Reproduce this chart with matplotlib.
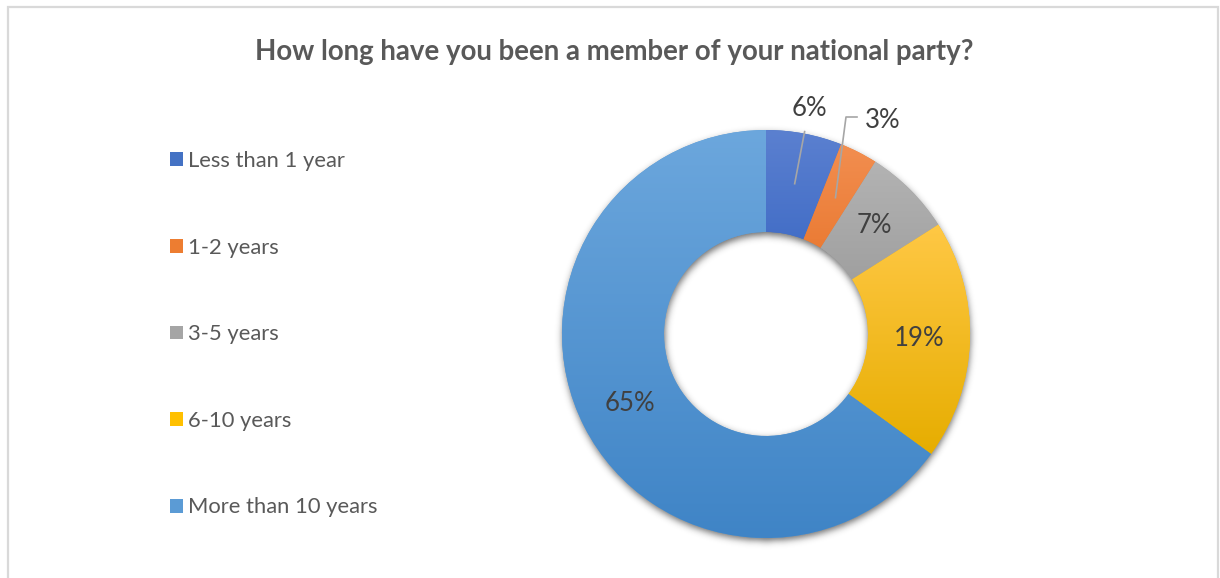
import numpy as np
import matplotlib.pyplot as plt
from matplotlib.colors import LinearSegmentedColormap, to_rgb
from matplotlib.patches import Rectangle

plt.rcParams['font.family'] = ['Lato', 'DejaVu Sans']

title = 'How long have you been a member of your national party?'
categories = ['Less than 1 year', '1-2 years', '3-5 years', '6-10 years', 'More than 10 years']
shares = [6, 3, 7, 19, 65]

# top / bottom shade of each slice
shade_top = ['#5b80d0', '#f28e50', '#b3b3b3', '#ffc845', '#6ca7dd']
shade_bot = ['#2f5fbf', '#e46c1e', '#979797', '#e6ad00', '#3f84c6']
shade_mid = ['#4472c4', '#ed7d31', '#a5a5a5', '#ffc000', '#5b9bd5']

W, H = 1220, 578
fig = plt.figure(figsize=(W / 100, H / 100), dpi=100)

# light frame round the chart area (open at the bottom)
fig.patches.append(Rectangle((8 / W, -0.05), 1210 / W, 1.05 - 7 / H, transform=fig.transFigure,
                             fill=False, edgecolor='#d9d9d9', linewidth=1.6))

fig.text(614 / W, 1 - 52 / H, title, ha='center', va='center', fontsize=19.9,
         fontweight='bold', color='#595959')

# donut axes: centre (766, 334), radius 204 px, limits padded for the shadow
cx, cy, R, pad = 766, 334, 204, 1.12
side = 2 * R * pad
ax = fig.add_axes([(cx - side / 2) / W, (H - cy - side / 2) / H, side / W, side / H])
ax.set_xlim(-pad, pad)
ax.set_ylim(-pad, pad)
ax.set_aspect('equal')
ax.axis('off')

ring = 0.5
wedges, _ = ax.pie(shares, colors=shade_mid, startangle=90, counterclock=False, radius=1,
                   wedgeprops=dict(width=ring, edgecolor='none', linewidth=0))

# soft drop shadow under the ring
n = 500
g = np.linspace(-pad, pad, n)
xx, yy = np.meshgrid(g, g)
off = 3.5 / R
rr = np.hypot(xx, yy + off)
mask = ((rr <= 1.0) & (rr >= 1.0 - ring)).astype(float)
sig = 3.5 / R / (g[1] - g[0])
k = np.arange(-int(4 * sig) - 1, int(4 * sig) + 2)
kern = np.exp(-0.5 * (k / sig) ** 2)
kern /= kern.sum()
blur = np.apply_along_axis(lambda r: np.convolve(r, kern, mode='same'), 1, mask)
blur = np.apply_along_axis(lambda c: np.convolve(c, kern, mode='same'), 0, blur)
shadow = np.zeros((n, n, 4))
shadow[..., :3] = 0.12
shadow[..., 3] = blur * 0.65
ax.imshow(shadow, extent=(-pad, pad, -pad, pad), origin='lower', zorder=0.5,
          interpolation='bilinear')

# vertical gradient fill clipped to each slice
grad = np.linspace(0, 1, 256).reshape(-1, 1)
for w, top, bot in zip(wedges, shade_top, shade_bot):
    w.set_zorder(1)
    v = w.get_path().vertices
    x0, x1 = v[:, 0].min(), v[:, 0].max()
    y0, y1 = v[:, 1].min(), v[:, 1].max()
    cmap = LinearSegmentedColormap.from_list('s', [to_rgb(bot), to_rgb(top)])
    im = ax.imshow(grad, cmap=cmap, extent=(x0, x1, y0, y1), origin='lower',
                   aspect='auto', zorder=2, interpolation='bilinear')
    im.set_clip_path(w)

ax.set_xlim(-pad, pad)
ax.set_ylim(-pad, pad)


def mid_point(w, r):
    a = np.deg2rad((w.theta1 + w.theta2) / 2)
    return r * np.cos(a), r * np.sin(a)


lab_kw = dict(fontsize=18.5, color='#404040', ha='center', va='center', zorder=5)
for w, s in zip(wedges[2:], shares[2:]):
    ax.text(*mid_point(w, 0.75), f'{s}%', **lab_kw)

# the two thin slices get their labels outside with leader lines
line_kw = dict(color='#a6a6a6', lw=1.2, zorder=4)
x6, y6 = mid_point(wedges[0], 0.75)
xa, ya = mid_point(wedges[0], 1.01)
ax.plot([x6, xa], [y6, ya], **line_kw)
ax.text(*mid_point(wedges[0], 1.125), f'{shares[0]}%', **lab_kw)

x3, y3 = mid_point(wedges[1], 0.75)
bx, by = 80 / R, 217 / R
ax.plot([x3, bx, bx + 11 / R], [y3, by, by], **line_kw)
ax.text(117 / R, 213 / R, f'{shares[1]}%', **lab_kw)

leg = fig.legend(wedges, categories, loc='upper left', bbox_to_anchor=(170 / W, 1 - 151 / H),
                 frameon=False, fontsize=15.8, handlelength=0.59, handleheight=0.59,
                 handletextpad=0.23, labelspacing=3.035, borderpad=0, borderaxespad=0)
for t in leg.get_texts():
    t.set_color('#595959')

fig.savefig('out.png', dpi=100)
